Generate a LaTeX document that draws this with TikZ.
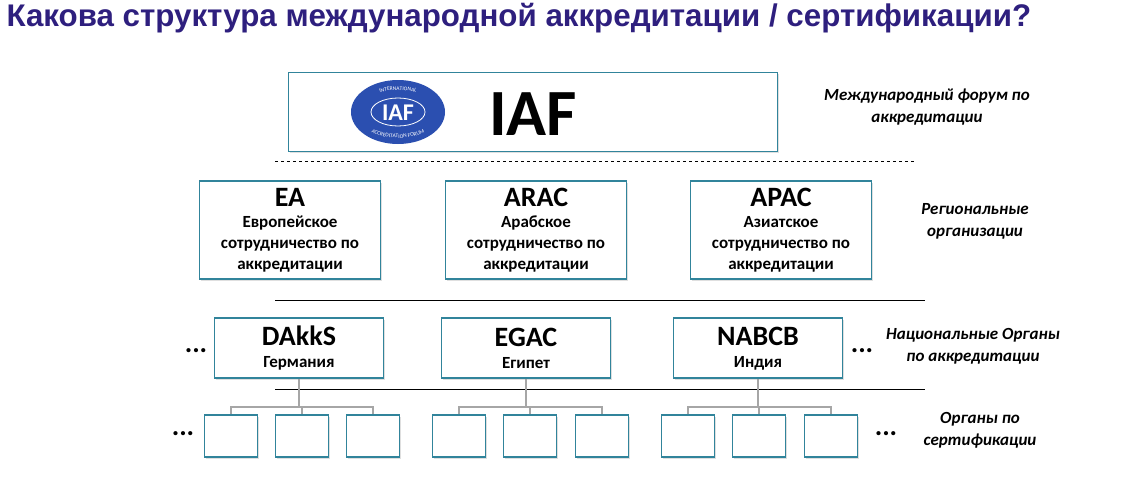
\documentclass[tikz,border=0pt]{standalone}
\usepackage{fontspec}
\setmainfont{Carlito}
\newfontfamily\titlefont{Liberation Sans}
\usetikzlibrary{shadows,decorations.text}
\definecolor{boxteal}{HTML}{31849B}
\definecolor{titleblue}{HTML}{2E1F7E}
\definecolor{logoblue}{HTML}{2B4FB0}
\begin{document}
\begin{tikzpicture}[x=1pt,y=-1pt]
\tikzstyle{orgbox}=[draw=boxteal, line width=1.6pt, fill=white, drop shadow={opacity=0.25,shadow xshift=1.5pt,shadow yshift=-1.5pt}]
\tikzstyle{certbox}=[orgbox, minimum width=53pt, minimum height=42pt]
\tikzstyle{sidelabel}=[font=\bfseries\itshape\fontsize{17}{22}\selectfont, align=center]
\tikzstyle{bus}=[draw=gray!70, line width=1.6pt]
\tikzstyle{dots}=[font=\bfseries\fontsize{28}{28}\selectfont]

\useasboundingbox (0,0) rectangle (1123,477);
\node[anchor=west, text=titleblue, font=\titlefont\bfseries\fontsize{31.3}{34}\selectfont] (title) at (3,18) {Какова структура международной аккредитации / сертификации?};

% top level
\node[orgbox, minimum width=489pt, minimum height=79pt] (iaf) at (533,112) {};
\node[font=\bfseries\fontsize{66}{66}\selectfont] (iaftext) at (533,114) {IAF};
\fill[logoblue] (398,112) ellipse [x radius=47, y radius=32];
\draw[white, line width=0.8pt] (398,112) ellipse [x radius=27, y radius=14];
\node[text=white, font=\bfseries\fontsize{24}{24}\selectfont] (logo) at (398,113) {IAF};
\path[decorate, decoration={text along path, text align=center, text={|\fontsize{5.5}{5.5}\selectfont\color{white}|ACCREDITATION FORUM}}] (356,112) arc [start angle=180, end angle=0, x radius=42, y radius=26];
\path[decorate, decoration={text along path, text align=center, text={|\fontsize{5.5}{5.5}\selectfont\color{white}|INTERNATIONAL}}] (359,112) arc [start angle=180, end angle=360, x radius=39, y radius=22];
\draw[dashed, line width=0.8pt] (275,161) -- (915,161);

% regional
\foreach \name/\abbr/\desc/\x in {ea/EA/Европейское/290, arac/ARAC/Арабское/536, apac/APAC/Азиатское/781}
  \node[orgbox, minimum width=181pt, minimum height=98pt, align=center, font=\bfseries\fontsize{17}{21}\selectfont] (\name) at (\x,230)
    {{\fontsize{28}{28}\selectfont \abbr}\\ \desc\\ сотрудничество по\\ аккредитации};
\draw[line width=0.8pt] (275,300) -- (925,300);

% national
\foreach \name/\abbr/\desc/\x in {dakks/DAkkS/Германия/299, egac/EGAC/Египет/526, nabcb/NABCB/Индия/758}
  \node[orgbox, minimum width=169pt, minimum height=60pt, align=center, font=\bfseries\fontsize{17}{22}\selectfont] (\name) at (\x,348)
    {{\fontsize{28}{28}\selectfont \abbr\strut}\\ \desc};
\draw[line width=0.8pt] (275,389) -- (925,389);

% certification bodies
\foreach \p/\a/\b/\c in {dakks/231/302/373, egac/459/530/602, nabcb/688/759/831} {
  \node[certbox] (\p1) at (\a,436) {};
  \node[certbox] (\p2) at (\b,436) {};
  \node[certbox] (\p3) at (\c,436) {};
  \draw[bus] (\p1.north) |- (\p3.north |- 0,407) -- (\p3.north);
  \draw[bus] (\p2.north) -- (\p2.north |- 0,407);
  \draw[bus] (\p.south) -- (\p.south |- 0,407);
}

\node[dots] (d1) at (196,351) {...};
\node[dots] (d2) at (862,351) {...};
\node[dots] (d3) at (183,434) {...};
\node[dots] (d4) at (886,434) {...};

\node[sidelabel] (l1) at (927,107) {Международный форум по\\ аккредитации};
\node[sidelabel] (l2) at (975,221) {Региональные\\ организации};
\node[sidelabel] (l3) at (973,346) {Национальные Органы\\ по аккредитации};
\node[sidelabel] (l4) at (980,430) {Органы по\\ сертификации};
\end{tikzpicture}
\end{document}
